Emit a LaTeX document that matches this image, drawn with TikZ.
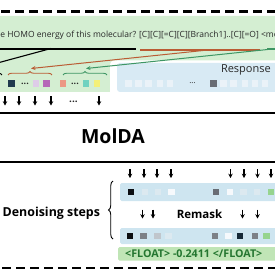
\documentclass[tikz,border=0pt]{standalone}
\usepackage{fontspec}
\setmainfont{Open Sans}
\usetikzlibrary{arrows.meta,decorations.pathreplacing}
\definecolor{bggreen}{RGB}{212,238,210}
\definecolor{bgblue}{RGB}{216,234,244}
\definecolor{stripblue}{RGB}{206,229,240}
\definecolor{stripgreen}{RGB}{192,229,182}
\definecolor{floatgreen}{RGB}{36,118,48}
\definecolor{brownc}{RGB}{186,92,52}
\definecolor{greenc}{RGB}{62,150,100}
\definecolor{txtc}{RGB}{40,40,40}
\definecolor{cnavy}{RGB}{32,58,78}
\definecolor{clav}{RGB}{222,204,232}
\definecolor{cpurp}{RGB}{182,104,184}
\definecolor{csalm}{RGB}{236,152,132}
\definecolor{cteal}{RGB}{112,210,192}
\definecolor{cyell}{RGB}{244,240,120}
\definecolor{cpale}{RGB}{234,242,248}
\definecolor{cfaint}{RGB}{220,233,240}
\definecolor{cwhite}{RGB}{246,249,252}
\definecolor{cdgrey}{RGB}{104,108,116}
\definecolor{cmgrey}{RGB}{124,128,134}
\definecolor{clgrey}{RGB}{192,198,204}
\definecolor{cgreen}{RGB}{150,212,142}
\definecolor{cblack}{RGB}{12,14,18}
\tikzset{
  sq/.style={minimum size=6.6pt, inner sep=0pt, draw=none},
  dn/.style={-{Stealth[length=4.3pt,width=4.5pt]}, line width=1.2pt},
  dashline/.style={line width=2.3pt, dash pattern=on 9pt off 5pt},
  under/.style={line width=1.1pt},
  bracestyle/.style={decorate, decoration={brace, amplitude=3.5pt}, line width=0.9pt},
  dotsty/.style={text=txtc, inner sep=0pt, font=\fontsize{9}{9}\selectfont\bfseries},
}
\begin{document}
\begin{tikzpicture}[x=1pt,y=-1pt]
\useasboundingbox (0,0) rectangle (275,275);
\clip (0,0) rectangle (275,275);

% dashed separators
\draw[dashline] (1,11.5) -- (280,11.5);
\draw[dashline] (2,268) -- (280,268);

% green input region and response box
\fill[bggreen, rounded corners=4pt] (-6,16) rectangle (285,92);
\fill[white, rounded corners=4pt] (110,60.5) rectangle (290,100);
\fill[bgblue, rounded corners=3pt] (117,63) rectangle (290,92);

% question text
\node[anchor=base west, inner sep=0pt, text=txtc, font=\fontsize{8.5}{10}\selectfont] (q) at (0.3,38)
  {e HOMO energy of this molecular? [C][C][=C][C][Branch1]..[C][=O] <mol>};

% underlines
\coordinate (ubA) at (-2,49); \coordinate (ubB) at (136,49);
\coordinate (urA) at (140,50); \coordinate (urB) at (260,50);
\coordinate (ugA) at (267,49); \coordinate (ugB) at (285,49);
\draw[under] (ubA) -- (ubB);
\draw[under, brownc] (urA) -- (urB);
\draw[under, greenc] (ugA) -- (ugB);

% connectors
\coordinate (bkS) at (51,48.5); \coordinate (bkE) at (-10,65);
\draw[line width=1.1pt] (bkS) -- (bkE);
\coordinate (brS) at (208,50); \coordinate (brE) at (31,68.5);
\draw[line width=1pt, brownc, -{Stealth[length=4.5pt,width=4pt]}] (brS) -- (brE);
\coordinate (grS) at (282,48); \coordinate (grE) at (86,68.5);
\draw[line width=1pt, greenc, -{Stealth[length=4.5pt,width=4pt]}] (grS) -- (grE);

% braces
\draw[bracestyle, brownc] (8,75) -- (52,75);
\draw[bracestyle, greenc] (63,75) -- (107,75);
\draw[bracestyle] (-40,75) -- (2,75);

% input token squares
\node[sq, fill=cnavy] (t1) at (11.5,83.5) {};
\node[dotsty] (d1) at (25,83.5) {...};
\node[sq, fill=clav] (t2) at (36,83.5) {};
\node[sq, fill=cpurp] (t3) at (46.5,83.5) {};
\node[sq, fill=csalm] (t4) at (63,83.5) {};
\node[dotsty] (d2) at (75,83.5) {...};
\node[sq, fill=cteal] (t5) at (86,83.5) {};
\node[sq, fill=cyell] (t6) at (97,83.5) {};

% response
\node[anchor=east, inner sep=0pt, text=txtc, font=\fontsize{11}{12}\selectfont] (resp) at (271,69.5) {Response};
\foreach \x/\n in {128.5/r1,138.5/r2,148.5/r3,160/r4,170/r5,223.5/r6,233.5/r7,245/r8,255/r9,265/r10}
  \node[sq, fill=cpale] (\n) at (\x,83.5) {};
\node[sq, fill=cdgrey] (r0) at (213.5,83.5) {};
\node[dotsty, font=\fontsize{8}{8}\selectfont] (d3) at (192.5,83.5) {...};

% arrows into model
\foreach \x in {5,19,35,51,99} \draw[dn] (\x,96.5) -- (\x,105.5);
\node[dotsty, font=\fontsize{10}{10}\selectfont\bfseries] (d4) at (73.5,102) {...};

% model band
\draw[line width=2.2pt] (-2,113) -- (280,113);
\node[font=\fontsize{19.5}{22}\selectfont\bfseries, inner sep=0pt] (molda) at (113,136.5) {MolDA};
\draw[line width=2.2pt] (-2,162) -- (280,162);

% denoising
\node[anchor=west, inner sep=0pt, font=\fontsize{12.4}{14}\selectfont\bfseries] (den) at (2.5,213) {Denoising steps};
\draw[bracestyle, decoration={brace, amplitude=4.5pt}] (113,239) -- (113,181);

% first step strip
\fill[stripblue, rounded corners=1.5pt] (120,183) rectangle (285,201);
\foreach \x in {130,144,157,171,230.5,244,257.5,271} \draw[dn] (\x,169) -- (\x,178);
\node[sq, fill=cblack] (a1) at (131,192) {};
\node[sq, fill=cfaint] (a2) at (145,192) {};
\node[sq, fill=cfaint] (a3) at (158,192) {};
\node[sq, fill=cwhite] (a4) at (171.5,192) {};
\node[sq, fill=cdgrey] (a5) at (216,192) {};
\node[sq, fill=cwhite] (a6) at (230,192) {};
\node[sq, fill=cfaint] (a7) at (243.5,192) {};
\node[sq, fill=cfaint] (a8) at (257,192) {};
\node[sq, fill=cgreen] (a9) at (271,192) {};

% remask row
\foreach \x in {142.5,153,242.5,257.5} \draw[dn] (\x,209.5) -- (\x,218.5);
\node[inner sep=0pt, font=\fontsize{11.5}{13}\selectfont\bfseries] (remask) at (199.5,214.5) {Remask};

% second step strip
\fill[stripblue, rounded corners=1.5pt] (120,228) rectangle (285,244);
\node[sq, fill=cblack] (b1) at (130,236) {};
\node[sq, fill=cmgrey] (b2) at (143.5,236) {};
\node[sq, fill=clgrey] (b3) at (157.5,236) {};
\node[sq, fill=cfaint] (b4) at (168.5,236) {};
\node[sq, fill=cmgrey] (b5) at (215,236) {};
\node[sq, fill=cwhite] (b6) at (228.5,236) {};
\node[sq, fill=cnavy!70!black] (b7) at (240,236) {};
\node[sq, fill=cmgrey] (b8) at (255,236) {};
\node[sq, fill=cgreen] (b9) at (266.5,236) {};

% output strip
\fill[stripgreen, rounded corners=1.5pt] (118,247) rectangle (285,260.5);
\node[anchor=west, inner sep=0pt, text=floatgreen, font=\fontsize{10.7}{12}\selectfont\bfseries] (out) at (125,253.7) {<FLOAT> -0.2411 </FLOAT>};
\end{tikzpicture}
\end{document}
